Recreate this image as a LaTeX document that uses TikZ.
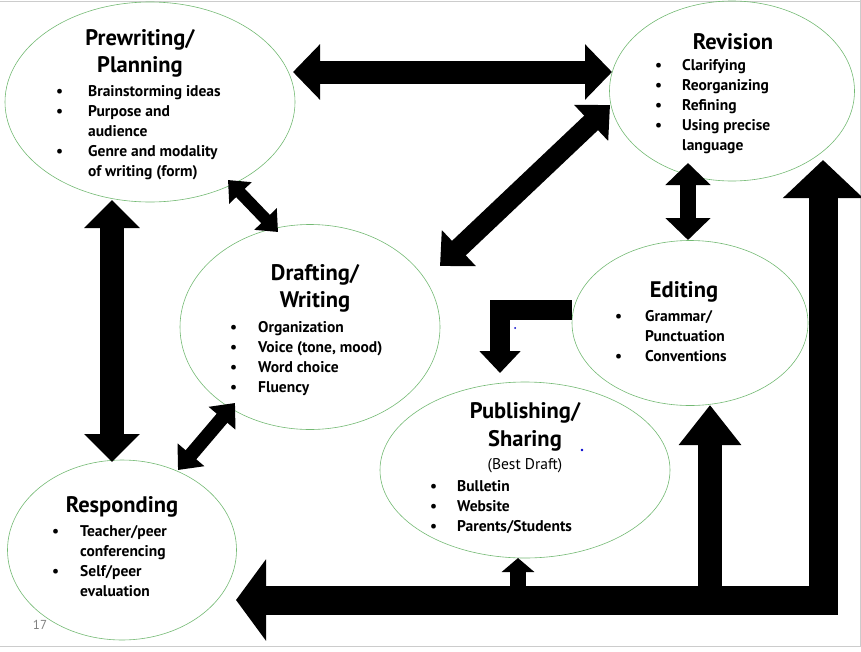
\documentclass[tikz,border=0pt]{standalone}
\usepackage{fontspec}
\setmainfont{PT Sans}
\usetikzlibrary{arrows.meta,shapes.geometric}
\begin{document}
\begin{tikzpicture}[x=1pt,y=-1pt,
  bub/.style={draw=green!50!black!55,line width=0.6pt,ellipse,inner sep=0pt},
  ttl/.style={font=\fontsize{22.5}{24}\selectfont\bfseries,anchor=center},
  itm/.style={font=\fontsize{15.5}{17}\selectfont\bfseries,anchor=base west,inner sep=0pt,yshift=-5.5pt},
  big/.style={line width=#1,line join=miter}]
\useasboundingbox (0,0) rectangle (861,651);
\draw[gray!40,line width=1pt] (0,1) -- (861,1) (0,646) -- (861,646) (860,0) -- (860,646);
% ellipses
\node[bub,minimum width=290pt,minimum height=200pt] (pre) at (150,102) {};
\node[bub,minimum width=245pt,minimum height=180pt] (rev) at (732,91) {};
\node[bub,minimum width=260pt,minimum height=205pt] (dra) at (310,327) {};
\node[bub,minimum width=236pt,minimum height=165pt] (edi) at (690,323) {};
\node[bub,minimum width=290pt,minimum height=176pt] (pub) at (525,470) {};
\node[bub,minimum width=229pt,minimum height=180pt] (res) at (122,550) {};
% coordinates
\coordinate (a1) at (293,72); \coordinate (a2) at (612,72);
\coordinate (b1) at (440,266); \coordinate (b2) at (610,105);
\coordinate (c1) at (228,180); \coordinate (c2) at (278,232);
\coordinate (d1) at (688,163); \coordinate (d2) at (688,240);
\coordinate (e1) at (112,200); \coordinate (e2) at (112,462);
\coordinate (f1) at (235,403); \coordinate (f2) at (178,470);
\coordinate (g1) at (572,310); \coordinate (g0) at (500,310); \coordinate (g2) at (500,373);
\coordinate (h1) at (823,160); \coordinate (h0) at (823,600); \coordinate (h2) at (236,600);
\coordinate (i1) at (710,600); \coordinate (i2) at (710,405);
\coordinate (j1) at (518,600); \coordinate (j2) at (518,558);
% arrows
\draw[big=23pt,{Triangle[width=54pt,length=27pt]}-{Triangle[width=54pt,length=27pt]}] (a1) -- (a2);
\draw[big=20pt,{Triangle[width=48pt,length=26pt]}-{Triangle[width=48pt,length=26pt]}] (b1) -- (b2);
\draw[big=12pt,{Triangle[width=30pt,length=18pt]}-{Triangle[width=30pt,length=18pt]}] (c1) -- (c2);
\draw[big=16pt,{Triangle[width=44pt,length=22pt]}-{Triangle[width=44pt,length=22pt]}] (d1) -- (d2);
\draw[big=24pt,{Triangle[width=54pt,length=28pt]}-{Triangle[width=54pt,length=28pt]}] (e1) -- (e2);
\draw[big=14pt,{Triangle[width=34pt,length=20pt]}-{Triangle[width=34pt,length=20pt]}] (f1) -- (f2);
\draw[big=20pt,-{Triangle[width=40pt,length=22pt]}] (g1) -- (g0) -- (g2);
\draw[big=24pt,-{Triangle[width=60pt,length=40pt]}] (i1) -- (i2);
\draw[big=16pt,-{Triangle[width=32pt,length=14pt]}] (j1) -- (j2);
\draw[big=29pt,{Triangle[width=78pt,length=38pt]}-{Triangle[width=80pt,length=30pt]}] (h1) -- (h0) -- (h2);
% Prewriting
\node[ttl] (t1a) at (140,40) {Prewriting/};
\node[ttl] (t1b) at (140,67) {Planning};
\node[itm] (p1b) at (56,91) {•}; \node[itm] (p1) at (88,91) {Brainstorming ideas};
\node[itm] (p2b) at (56,111) {•}; \node[itm] (p2) at (88,111) {Purpose and};
\node[itm] (p3) at (88,131) {audience};
\node[itm] (p4b) at (56,151) {•}; \node[itm] (p4) at (88,151) {Genre and modality};
\node[itm] (p5) at (88,171) {of writing (form)};
% Revision
\node[ttl] (t2) at (733,42) {Revision};
\node[itm] (r1b) at (655,65) {•}; \node[itm] (r1) at (682,65) {Clarifying};
\node[itm] (r2b) at (655,85) {•}; \node[itm] (r2) at (682,85) {Reorganizing};
\node[itm] (r3b) at (655,105) {•}; \node[itm] (r3) at (682,105) {Refining};
\node[itm] (r4b) at (655,125) {•}; \node[itm] (r4) at (682,125) {Using precise};
\node[itm] (r5) at (682,145) {language};
% Drafting
\node[ttl] (t3a) at (315,275) {Drafting/};
\node[ttl] (t3b) at (315,302) {Writing};
\node[itm] (d1b) at (230,327) {•}; \node[itm] (dd1) at (258,327) {Organization};
\node[itm] (d2b) at (230,347) {•}; \node[itm] (dd2) at (258,347) {Voice (tone, mood)};
\node[itm] (d3b) at (230,367) {•}; \node[itm] (dd3) at (258,367) {Word choice};
\node[itm] (d4b) at (230,387) {•}; \node[itm] (dd4) at (258,387) {Fluency};
% Editing
\node[ttl] (t4) at (684,292) {Editing};
\node[itm] (e1b) at (615,316) {•}; \node[itm] (ee1) at (645,316) {Grammar/};
\node[itm] (ee2) at (645,336) {Punctuation};
\node[itm] (e3b) at (615,356) {•}; \node[itm] (ee3) at (645,356) {Conventions};
% Publishing
\node[ttl] (t5a) at (525,413) {Publishing/};
\node[ttl] (t5b) at (525,441) {Sharing};
\node[font=\fontsize{15.5}{17}\selectfont] (t5c) at (525,466) {(Best Draft)};
\node[itm] (u1b) at (430,486) {•}; \node[itm] (u1) at (457,486) {Bulletin};
\node[itm] (u2b) at (430,506) {•}; \node[itm] (u2) at (457,506) {Website};
\node[itm] (u3b) at (430,526) {•}; \node[itm] (u3) at (457,526) {Parents/Students};
% Responding
\node[ttl] (t6) at (122,507) {Responding};
\node[itm] (s1b) at (52,531) {•}; \node[itm] (s1) at (80,531) {Teacher/peer};
\node[itm] (s2) at (80,551) {conferencing};
\node[itm] (s3b) at (52,571) {•}; \node[itm] (s3) at (80,571) {Self/peer};
\node[itm] (s4) at (80,591) {evaluation};
% misc
\node[font=\fontsize{13}{15}\selectfont,text=gray] (pg) at (40,625) {17};
\fill[blue!80!black] (515,328) circle (1pt) (582,450) circle (1.3pt);
\end{tikzpicture}
\end{document}
